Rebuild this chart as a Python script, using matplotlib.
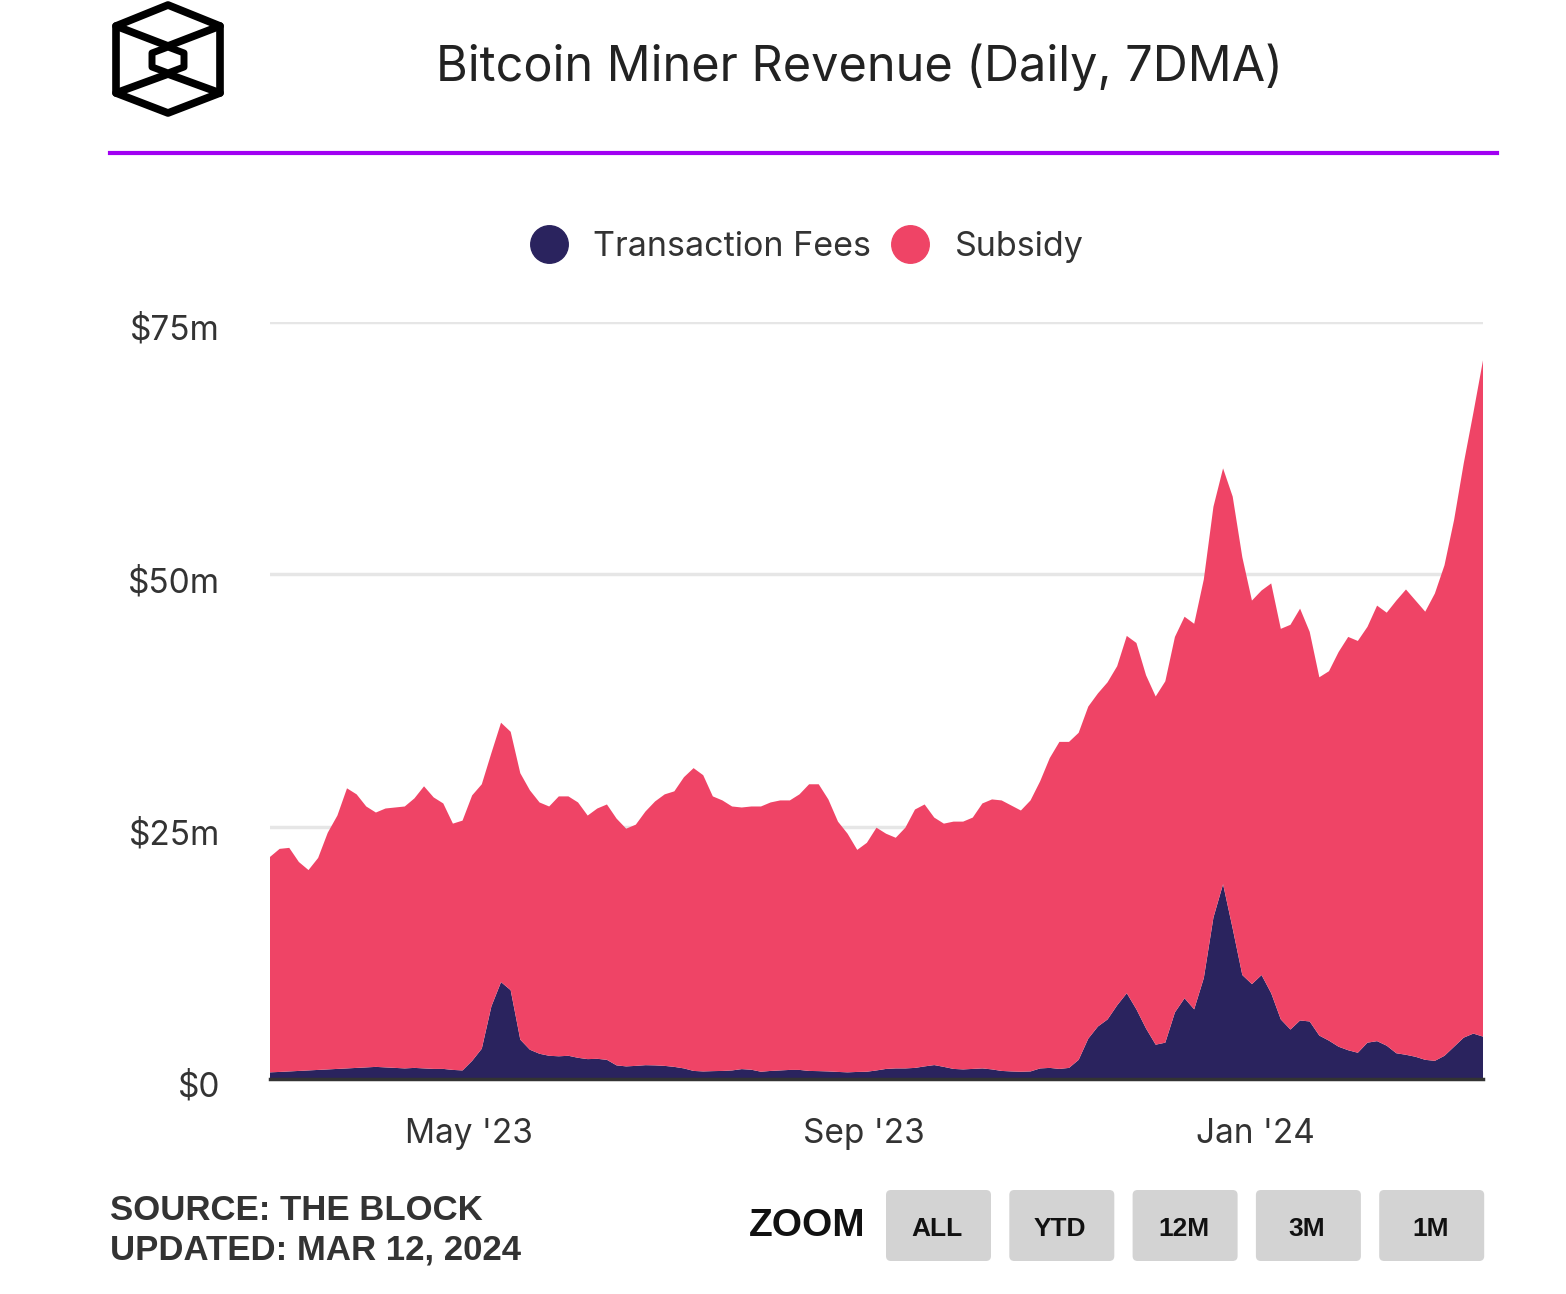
import numpy as np
import pandas as pd
import matplotlib.pyplot as plt
import matplotlib.ticker as mticker
import matplotlib.dates as mdates
import matplotlib.transforms as mtransforms
from matplotlib.patches import FancyBboxPatch, Polygon
from matplotlib.lines import Line2D

plt.rcParams['font.family'] = ['Inter', 'DejaVu Sans']

# 7-day moving average, one reading every 3 days ($m)
dates = pd.date_range('2023-02-28', periods=127, freq='3D')

total_revenue = [
    22.0, 22.8, 22.9, 21.5, 20.7, 21.9, 24.4, 26.1, 28.8, 28.2,
    27.0, 26.4, 26.8, 26.9, 27.0, 27.8, 29.0, 27.9, 27.3, 25.3,
    25.6, 28.1, 29.2, 32.3, 35.3, 34.4, 30.3, 28.6, 27.4, 27.0,
    28.0, 28.0, 27.4, 26.1, 26.8, 27.2, 25.8, 24.8, 25.2, 26.5,
    27.5, 28.2, 28.5, 29.9, 30.8, 30.1, 28.0, 27.6, 27.0, 26.9,
    27.0, 27.0, 27.4, 27.6, 27.6, 28.2, 29.2, 29.2, 27.7, 25.5,
    24.3, 22.7, 23.4, 24.9, 24.3, 23.9, 24.9, 26.7, 27.2, 25.9,
    25.3, 25.5, 25.5, 25.9, 27.3, 27.7, 27.6, 27.1, 26.6, 27.6,
    29.5, 31.8, 33.4, 33.4, 34.3, 36.9, 38.2, 39.3, 40.9, 43.9,
    43.2, 40.0, 37.9, 39.4, 43.8, 45.8, 45.1, 49.5, 56.7, 60.5,
    57.7, 51.7, 47.4, 48.4, 49.1, 44.6, 45.0, 46.6, 44.3, 39.8,
    40.4, 42.3, 43.8, 43.4, 44.8, 46.9, 46.2, 47.4, 48.5, 47.4,
    46.3, 48.1, 50.9, 55.4, 61.0, 66.0, 71.2]

transaction_fees = [
    0.66, 0.70, 0.75, 0.80, 0.85, 0.90, 0.95, 1.00, 1.05, 1.10,
    1.15, 1.20, 1.15, 1.10, 1.05, 1.10, 1.05, 1.00, 1.00, 0.90,
    0.85, 1.80, 3.00, 7.20, 9.60, 8.80, 3.90, 2.90, 2.50, 2.30,
    2.25, 2.30, 2.10, 1.97, 2.00, 1.90, 1.35, 1.25, 1.30, 1.37,
    1.35, 1.30, 1.20, 1.05, 0.80, 0.75, 0.78, 0.80, 0.85, 0.98,
    0.92, 0.72, 0.80, 0.85, 0.90, 0.90, 0.80, 0.78, 0.75, 0.70,
    0.66, 0.70, 0.72, 0.85, 1.00, 1.05, 1.05, 1.10, 1.25, 1.38,
    1.20, 1.00, 0.95, 1.00, 1.05, 0.95, 0.80, 0.75, 0.72, 0.75,
    1.05, 1.10, 1.00, 1.10, 1.90, 4.00, 5.20, 5.90, 7.30, 8.50,
    6.90, 5.00, 3.40, 3.60, 6.60, 8.00, 6.90, 10.0, 16.0, 19.3,
    14.9, 10.3, 9.40, 10.3, 8.50, 5.90, 4.90, 5.80, 5.70, 4.30,
    3.80, 3.20, 2.85, 2.60, 3.60, 3.75, 3.30, 2.55, 2.40, 2.20,
    1.90, 1.80, 2.30, 3.20, 4.10, 4.50, 4.20]

subsidy = np.array(total_revenue) - np.array(transaction_fees)

series_names = ['Transaction Fees', 'Subsidy']
series_colors = ['#2a235e', '#ef4466']
y_ticks = [0, 25, 50, 75]
zoom_buttons = ['ALL', 'YTD', '12M', '3M', '1M']

W, H = 1566, 1294
fig = plt.figure(figsize=(W / 100, H / 100), dpi=100)

# decoration layer in pixel coordinates
deco = fig.add_axes([0, 0, 1, 1], zorder=0)
deco.set_xlim(0, W)
deco.set_ylim(H, 0)
deco.axis('off')

# logo
outer = [(168, 5), (220, 26), (220, 93), (168, 113), (116, 93), (116, 26)]
deco.add_patch(Polygon(outer, closed=True, fill=False, ec='black', lw=5.5, joinstyle='round'))
inner = [(168, 47), (184, 53), (184, 67), (168, 73), (152, 67), (152, 53)]
deco.add_patch(Polygon(inner, closed=True, fill=False, ec='black', lw=5, joinstyle='round'))
for (xa, ya), (xb, yb) in [((116, 26), (168, 46)), ((220, 26), (168, 46)),
                            ((116, 93), (168, 74)), ((220, 93), (168, 74))]:
    deco.plot([xa, xb], [ya, yb], color='black', lw=5.5, solid_capstyle='round')

deco.text(859, 67, 'Bitcoin Miner Revenue (Daily, 7DMA)', ha='center', va='center',
          fontsize=35, color='#222222')
deco.plot([110, 1497], [153, 153], color='#a100f2', lw=3)

# footer
deco.text(110, 1211, 'SOURCE: THE BLOCK', ha='left', va='center', fontsize=25,
          fontweight='bold', color='#333333', family='Liberation Sans')
deco.text(110, 1250, 'UPDATED: MAR 12, 2024', ha='left', va='center', fontsize=25,
          fontweight='bold', color='#333333', family='Liberation Sans')
deco.text(807, 1226, 'ZOOM', ha='center', va='center', fontsize=28,
          fontweight='bold', color='#111111', family='Liberation Sans')
for i, lab in enumerate(zoom_buttons):
    x0 = 886 + i * 123.3
    deco.add_patch(FancyBboxPatch((x0, 1190), 105, 71, boxstyle='round,pad=0,rounding_size=5',
                                  fc='#d3d3d3', ec='none'))
    deco.text(x0 + 51, 1229, lab, ha='center', va='center', fontsize=19,
              fontweight='bold', color='#111111', family='Liberation Sans')

# chart
ax = fig.add_axes([270 / W, 1 - 1079 / H, 1213 / W, 757 / H], zorder=1)
ax.patch.set_alpha(0)
ax.stackplot(dates, transaction_fees, subsidy, colors=series_colors, zorder=2)
ax.set_xlim(dates[0], dates[-1])
ax.set_ylim(0, 75)
ax.set_yticks(y_ticks)
ax.yaxis.set_major_formatter(mticker.FuncFormatter(lambda v, p: '$0' if v == 0 else f'${v:.0f}m'))
ax.grid(axis='y', color='#e6e6e6', lw=2.5, zorder=0)
ax.set_axisbelow(True)
ax.xaxis.set_major_locator(mdates.MonthLocator(bymonth=[1, 5, 9]))
ax.xaxis.set_major_formatter(mdates.DateFormatter("%b '%y"))
for s in ['top', 'right', 'left']:
    ax.spines[s].set_visible(False)
ax.spines['bottom'].set_color('#333333')
ax.spines['bottom'].set_linewidth(2.5)
ax.spines['bottom'].set_zorder(3)
ax.tick_params(axis='y', length=0, pad=36, labelsize=24, labelcolor='#333333')
ax.tick_params(axis='x', length=0, pad=28, labelsize=24, labelcolor='#333333')
shift = mtransforms.ScaledTranslation(0, -5 / 100, fig.dpi_scale_trans)
for lab in ax.get_yticklabels():
    lab.set_transform(lab.get_transform() + shift)

# legend
handles = [Line2D([], [], marker='o', ls='none', ms=27, mfc=c, mec=c) for c in series_colors]
fig.legend(handles, series_names, loc='center', bbox_to_anchor=(806 / W, 1 - 247 / H),
           ncol=2, frameon=False, fontsize=24.5, labelcolor='#333333',
           handletextpad=0.7, columnspacing=0.55, handlelength=1.2)

fig.savefig('out.png', dpi=100)
